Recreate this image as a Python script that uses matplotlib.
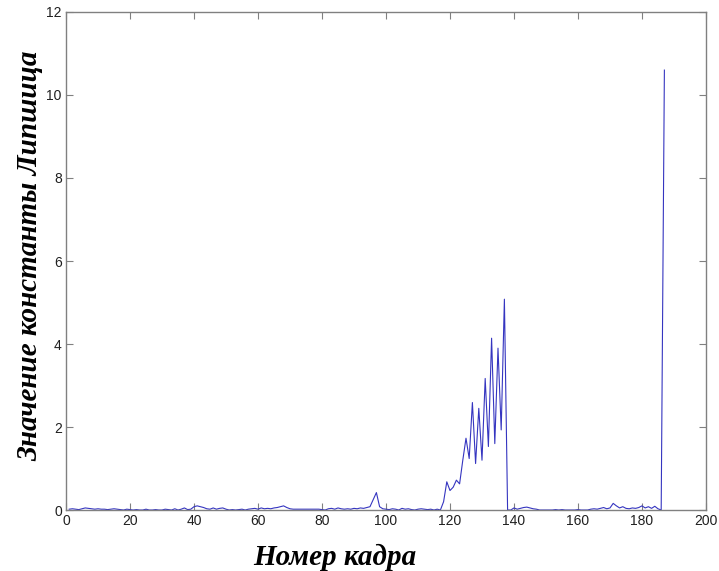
import matplotlib
matplotlib.use("Agg")
import matplotlib.pyplot as plt
import numpy as np

# Lipschitz constant per frame (frames 1..187)
frames = np.arange(1, 188)
lipschitz = [
    # 1-20
    0.02, 0.03, 0.02, 0.01, 0.03, 0.05, 0.04, 0.03, 0.02, 0.03,
    0.02, 0.02, 0.01, 0.02, 0.03, 0.02, 0.01, 0.00, 0.02, 0.01,
    # 21-40
    0.00, 0.01, 0.00, 0.00, 0.02, 0.00, 0.00, 0.01, 0.00, 0.00,
    0.02, 0.01, 0.00, 0.03, 0.00, 0.02, 0.05, 0.01, 0.02, 0.08,
    # 41-60
    0.10, 0.08, 0.06, 0.03, 0.02, 0.05, 0.02, 0.04, 0.05, 0.02,
    0.00, 0.01, 0.00, 0.01, 0.02, 0.00, 0.02, 0.03, 0.04, 0.02,
    # 61-80
    0.05, 0.03, 0.04, 0.03, 0.05, 0.06, 0.08, 0.10, 0.06, 0.03,
    0.02, 0.02, 0.02, 0.02, 0.02, 0.02, 0.02, 0.02, 0.02, 0.01,
    # 81-100
    0.00, 0.03, 0.04, 0.02, 0.05, 0.03, 0.02, 0.03, 0.02, 0.04,
    0.03, 0.05, 0.04, 0.06, 0.08, 0.25, 0.42, 0.08, 0.03, 0.02,
    # 101-117
    0.01, 0.03, 0.02, 0.00, 0.04, 0.02, 0.03, 0.01, 0.00, 0.02,
    0.03, 0.02, 0.01, 0.02, 0.00, 0.02, 0.00,
    # 118-138
    0.20, 0.68, 0.47, 0.55, 0.72, 0.63, 1.20, 1.73, 1.24, 2.59,
    1.12, 2.45, 1.20, 3.17, 1.53, 4.14, 1.60, 3.90, 1.93, 5.08,
    0.00,
    # 139-150
    0.00, 0.05, 0.02, 0.04, 0.06, 0.07, 0.05, 0.03, 0.02, 0.00,
    0.00, 0.00,
    # 151-170
    0.00, 0.00, 0.01, 0.00, 0.01, 0.00, 0.00, 0.00, 0.00, 0.01,
    0.00, 0.00, 0.00, 0.02, 0.03, 0.02, 0.04, 0.06, 0.03, 0.05,
    # 171-187
    0.16, 0.10, 0.05, 0.08, 0.04, 0.03, 0.05, 0.04, 0.06, 0.10,
    0.05, 0.08, 0.04, 0.09, 0.03, 0.00, 10.60,
]

fig = plt.figure(figsize=(7.19, 5.71), dpi=100)
ax = fig.add_axes([0.0918, 0.1068, 0.8901, 0.8722])

ax.plot(frames, lipschitz, color="#3535c0", lw=0.8)

ax.set_xlim(0, 200)
ax.set_ylim(0, 12)
ax.set_xticks(np.arange(0, 201, 20))
ax.set_yticks(np.arange(0, 13, 2))
ax.tick_params(direction="in", top=True, right=True, length=5, width=0.8,
               color="#808080", labelcolor="#202020", labelsize=10, pad=3)
for lab in ax.get_xticklabels() + ax.get_yticklabels():
    lab.set_family("Liberation Sans")
for sp in ax.spines.values():
    sp.set_color("#808080")
    sp.set_linewidth(1.0)

label_font = dict(family="Liberation Serif", style="italic", weight="bold", size=21)
ax.set_xlabel("Номер кадра", **label_font)
ax.xaxis.set_label_coords(0.42, -0.068)
ax.set_ylabel("Значение константы Липшица", **label_font)
ax.yaxis.set_label_coords(-0.035, 0.51)

fig.savefig("out.png", dpi=100)
